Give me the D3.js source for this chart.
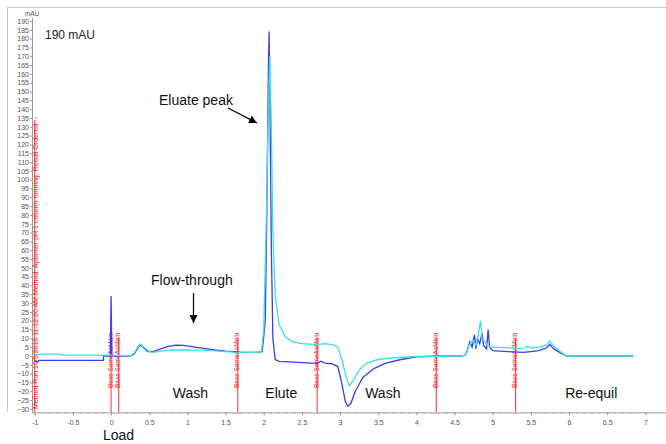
<!DOCTYPE html>
<html lang="en">
<head>
<meta charset="utf-8" />
<title>Chromatogram</title>
<script src="https://d3js.org/d3.v7.min.js"></script>
<style>
  body { margin: 0; background: #fff; }
  svg { font-family: "Liberation Sans", Arial, sans-serif; }
  .axis text { font-size: 7px; fill: #555; }
  .axis path, .axis line { stroke: #999; }
</style>
</head>
<body>
<div id="chart"></div>
<script>
// UV trace (blue) and second trace (cyan): [time, mAU]
var traceBlue = [
  [-1,-2.5],[-0.97,-3.5],[-0.94,-2.5],[-0.1,-2.5],[-0.1,0],[-0.01,0],[0,34],[0.01,0],
  [0.25,0],[0.3,1],[0.35,4.5],[0.38,6.5],[0.42,5],[0.48,2.5],[0.55,2.5],[0.65,4],
  [0.75,5.5],[0.85,6.2],[0.95,6],[1.1,5],[1.3,3.8],[1.5,2.8],[1.7,2.2],[1.9,2],
  [1.98,2.5],[2.02,20],[2.04,80],[2.06,160],[2.07,184],[2.08,150],[2.1,60],[2.12,10],
  [2.15,-2],[2.2,-3],[2.4,-3.5],[2.6,-4],[2.7,-4],[2.75,-3],[2.8,-4],[2.9,-4.5],
  [2.97,-6],[3.02,-15],[3.07,-26],[3.1,-28.5],[3.14,-27],[3.2,-20],[3.3,-12],
  [3.45,-7],[3.6,-4],[3.8,-2],[4.0,-0.5],[4.3,0],[4.6,0],[4.65,1],[4.7,8],[4.73,5],
  [4.76,12],[4.78,4],[4.8,10],[4.83,7],[4.86,13],[4.88,6],[4.92,4],[4.94,15],
  [4.96,5],[5.0,3],[5.2,2.5],[5.4,2],[5.5,2.5],[5.6,3],[5.7,4.5],[5.75,6.5],
  [5.8,4],[5.9,1.5],[5.97,0],[6.84,0]
];
var traceCyan = [
  [-1,0.5],[-0.9,1],[-0.7,1],[-0.65,0.5],[0,0.5],[0.25,0],[0.3,1.5],[0.35,5],
  [0.38,6.8],[0.43,5],[0.5,2.5],[0.55,2],[0.65,2.8],[0.8,3.4],[1.0,3.5],[1.3,3],
  [1.6,2.2],[1.9,2],[1.97,2.5],[2.0,15],[2.03,70],[2.06,140],[2.08,170],[2.1,130],
  [2.12,70],[2.15,35],[2.2,18],[2.28,11],[2.38,8],[2.5,7],[2.7,6.5],[2.8,7],
  [2.9,6.5],[2.97,5],[3.03,-3],[3.08,-12],[3.12,-17],[3.17,-14],[3.25,-8],
  [3.35,-4],[3.5,-2],[3.7,-1],[4.0,-0.3],[4.6,0],[4.65,1],[4.7,7],[4.74,9],
  [4.78,6],[4.81,12],[4.84,20],[4.86,10],[4.88,9],[4.92,7],[4.96,5],[5.0,5],
  [5.3,4.5],[5.4,4],[5.45,5.5],[5.5,4.5],[5.6,5],[5.7,6],[5.75,8.5],[5.8,5.5],
  [5.9,2],[5.97,0],[6.84,0]
];

// event marks
var eventTimes = [0, 0.1, 1.66, 2.7, 4.26, 5.3];
var eventLabel = "Base SameAsMain";
var methodText = "Method Run 10/5/2010 11:12:20 AM  Method: Aptamer pH 1 column running, Result Ordered";

// phase annotations [time, label]
var phaseLabels = [[1.04, "Wash"], [2.23, "Elute"], [3.56, "Wash"], [6.29, "Re-equil"]];

var xTicks = [-1,-0.5,0,0.5,1,1.5,2,2.5,3,3.5,4,4.5,5,5.5,6,6.5,7];
var xTickLabels = ["-1","-0.5","0","0.5","1","1.5","2","2.5","3","3.5","4","4.5","5","5.5","6","6.5","7"];
var yTicks = d3.range(-30, 191, 5);

var width = 666, height = 444;

var svg = d3.select("#chart").append("svg")
  .attr("width", width)
  .attr("height", height);

var xScale = d3.scaleLinear().domain([-1.036, 7.27]).range([32, 666]);
var yScale = d3.scaleLinear().domain([-32, 192]).range([412.4, 17.5]);

// frame
svg.append("path")
  .attr("d", "M7.5,412 V7.5 H666")
  .attr("fill", "none")
  .attr("stroke", "#c8c8c8");

// x axis
var xAxis = d3.axisBottom(xScale)
  .tickValues(xTicks)
  .tickFormat(function(d, i) { return xTickLabels[i]; })
  .tickSize(3)
  .tickSizeOuter(0);
var gx = svg.append("g")
  .attr("class", "axis")
  .attr("transform", "translate(0," + yScale(-32) + ")")
  .call(xAxis);
gx.select(".domain").attr("d", "M32,0.5H666");
gx.selectAll("text").attr("dy", "0.9em");

// minor x ticks
svg.append("g").selectAll("line")
  .data(d3.range(-10, 71).map(function(d) { return d / 10; }))
  .enter().append("line")
  .attr("x1", function(d) { return xScale(d); })
  .attr("x2", function(d) { return xScale(d); })
  .attr("y1", yScale(-32))
  .attr("y2", yScale(-32) + 1.5)
  .attr("stroke", "#aaa");

// y axis
var yAxis = d3.axisLeft(yScale)
  .tickValues(yTicks)
  .tickSize(2)
  .tickSizeOuter(0);
var gy = svg.append("g")
  .attr("class", "axis")
  .attr("transform", "translate(32,0)")
  .call(yAxis);
gy.select(".domain").attr("stroke", "#3c3cf0");
gy.selectAll("text").attr("x", -3);

svg.append("text")
  .attr("x", 32)
  .attr("y", 16)
  .attr("text-anchor", "middle")
  .attr("font-size", 6.5)
  .attr("fill", "#555")
  .text("mAU");

// method event line along y axis
svg.append("line")
  .attr("x1", xScale(-1)).attr("x2", xScale(-1))
  .attr("y1", 120).attr("y2", yScale(-32))
  .attr("stroke", "#ff3030");
svg.append("text")
  .attr("transform", "translate(" + (xScale(-1) + 1) + "," + 409 + ") rotate(-90)")
  .attr("font-size", 7)
  .attr("fill", "#ff2020")
  .attr("dominant-baseline", "central")
  .text(methodText);
svg.append("text")
  .attr("x", xScale(-1) + 1)
  .attr("y", 121)
  .attr("text-anchor", "middle")
  .attr("font-size", 6)
  .attr("fill", "#ff3030")
  .text("^");

// event marks
var ev = svg.append("g").selectAll("g")
  .data(eventTimes)
  .enter().append("g");
ev.append("line")
  .attr("x1", function(d) { return xScale(d); })
  .attr("x2", function(d) { return xScale(d); })
  .attr("y1", 338)
  .attr("y2", yScale(-32))
  .attr("stroke", "#ff3030");
ev.append("text")
  .attr("transform", function(d) { return "translate(" + (xScale(d) - 1) + ",388) rotate(-90)"; })
  .attr("font-size", 6.5)
  .attr("fill", "#ff2020")
  .attr("dominant-baseline", "central")
  .text(eventLabel);

// traces
var line = d3.line()
  .x(function(d) { return xScale(d[0]); })
  .y(function(d) { return yScale(d[1]); });

svg.append("path")
  .datum(traceBlue)
  .attr("d", line)
  .attr("fill", "none")
  .attr("stroke", "#3c3cf0")
  .attr("stroke-width", 1.3);

svg.append("path")
  .datum(traceCyan)
  .attr("d", line)
  .attr("fill", "none")
  .attr("stroke", "#40e0e0")
  .attr("stroke-width", 1.3);

// annotations
svg.append("text")
  .attr("x", 45).attr("y", 39)
  .attr("font-size", 12)
  .attr("fill", "#222")
  .text("190 mAU");

svg.append("text")
  .attr("x", 159).attr("y", 105)
  .attr("font-size", 14)
  .attr("fill", "#111")
  .text("Eluate peak");

svg.append("text")
  .attr("x", 151).attr("y", 285)
  .attr("font-size", 14)
  .attr("fill", "#111")
  .text("Flow-through");

svg.append("text")
  .attr("x", 103).attr("y", 440)
  .attr("font-size", 14)
  .attr("fill", "#111")
  .text("Load");

svg.append("g").selectAll("text")
  .data(phaseLabels)
  .enter().append("text")
  .attr("x", function(d) { return xScale(d[0]); })
  .attr("y", 398)
  .attr("text-anchor", "middle")
  .attr("font-size", 14)
  .attr("fill", "#111")
  .text(function(d) { return d[1]; });

// arrows
var defs = svg.append("defs");
defs.append("marker")
  .attr("id", "head")
  .attr("viewBox", "0 0 10 10")
  .attr("refX", 10).attr("refY", 5)
  .attr("markerWidth", 8).attr("markerHeight", 8)
  .attr("markerUnits", "userSpaceOnUse")
  .attr("orient", "auto")
  .append("path")
  .attr("d", "M0,0 L10,5 L0,10 Z")
  .attr("fill", "#000");

svg.append("line")
  .attr("x1", 228).attr("y1", 108)
  .attr("x2", 257).attr("y2", 123)
  .attr("stroke", "#000")
  .attr("stroke-width", 1.2)
  .attr("marker-end", "url(#head)");

svg.append("line")
  .attr("x1", 193.5).attr("y1", 293)
  .attr("x2", 193.5).attr("y2", 323)
  .attr("stroke", "#000")
  .attr("stroke-width", 1.2)
  .attr("marker-end", "url(#head)");
</script>
</body>
</html>
